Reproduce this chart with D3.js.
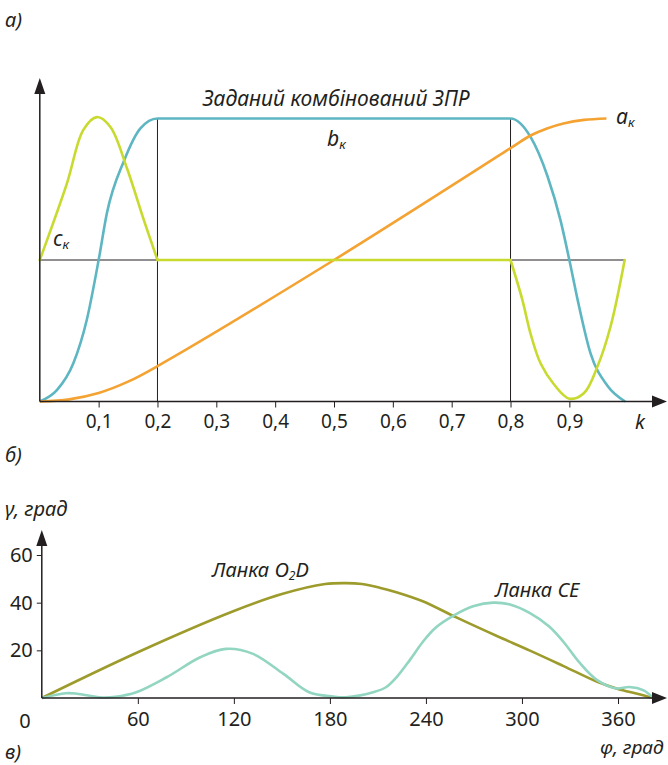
<!DOCTYPE html>
<html>
<head>
<meta charset="utf-8">
<script src="https://cdn.jsdelivr.net/npm/d3@7"></script>
<style>
  body { margin: 0; background: #fff; }
  svg { display: block; font-family: "Noto Sans", "Open Sans", sans-serif; }
  .lbl { fill: #231f20; }
  .it { font-style: italic; }
</style>
</head>
<body>
<svg id="chart" width="668" height="765"></svg>
<script>
// --- top chart: combined law (values on -1..1) ---
const kTicks = [0.1, 0.2, 0.3, 0.4, 0.5, 0.6, 0.7, 0.8, 0.9];

const bK = [0, 0.029, 0.057, 0.08, 0.1, 0.114, 0.143, 0.171, 0.2, 0.8, 0.834, 0.863, 0.885, 0.9, 0.914, 0.936, 0.965, 0.995];
const bV = [-1, -0.92, -0.73, -0.42, 0, 0.33, 0.7, 0.93, 1, 1, 0.87, 0.59, 0.28, 0, -0.28, -0.66, -0.89, -1];

const aK = [0, 0.05, 0.1, 0.15, 0.2, 0.5, 0.8, 0.834, 0.862, 0.89, 0.925, 0.963];
const aV = [-1, -0.985, -0.94, -0.86, -0.75, 0, 0.79, 0.88, 0.93, 0.965, 0.99, 1.0];

const cLeftK = [0, 0.046, 0.074, 0.097, 0.12, 0.148, 0.177, 0.2];
const cLeftV = [0, 0.54, 0.92, 1.01, 0.94, 0.65, 0.28, 0];
const cMidK = [0.2, 0.8];
const cMidV = [0, 0];
const cRightK = [0.8, 0.82, 0.834, 0.851, 0.874, 0.9, 0.925, 0.948, 0.97, 0.994];
const cRightV = [0, -0.28, -0.52, -0.73, -0.88, -0.98, -0.94, -0.75, -0.47, 0];

// --- bottom chart: gamma (deg) vs phi (deg) ---
const phiTicks = [60, 120, 180, 240, 300, 360];
const gammaTicks = [20, 40, 60];

const o2dPhi = [0, 60, 120, 150, 177, 190, 200, 211, 222, 238, 259, 284, 305, 326, 347, 360, 372, 382];
const o2dGamma = [0, 19.2, 36.5, 43.6, 47.8, 48.2, 47.8, 46.3, 44.3, 40.6, 33.8, 26.1, 19.9, 13.4, 6.8, 3.8, 1.8, 0];

const cePhi = [0, 15, 22, 36, 46, 59, 78, 99, 115, 132, 151, 167, 182, 190, 207, 215, 222, 230, 238, 246, 257, 270, 282, 292, 305, 317, 326, 336, 347, 359, 367, 376, 382];
const ceGamma = [0, 2.0, 1.8, 0.3, 0.5, 2.4, 8.7, 17.1, 20.6, 18.5, 10.1, 2.4, 0.6, 0.3, 2.4, 4.5, 9, 16, 23.5, 29.5, 34.5, 38.6, 40, 39.3, 35.6, 30, 23.5, 14.8, 7.5, 4, 4.6, 3.2, 0];

const ink = "#231f20";
const zip = (xs, ys) => xs.map((x, i) => [x, ys[i]]);

const svg = d3.select("#chart");

function arrowRight(g, x, y) {
  g.append("path").attr("d", `M${x},${y} L${x - 15},${y - 6} L${x - 15},${y + 6} Z`).attr("fill", ink);
}
function arrowUp(g, x, y) {
  g.append("path").attr("d", `M${x},${y} L${x - 5.5},${y + 16} L${x + 5.5},${y + 16} Z`).attr("fill", ink);
}
function label(x, y, txt, size, italic, anchor) {
  return svg.append("text").attr("class", "lbl" + (italic ? " it" : ""))
    .attr("x", x).attr("y", y).attr("font-size", size)
    .attr("text-anchor", anchor || "start").text(txt);
}
function subLabel(x, y, main, sub, size) {
  const t = svg.append("text").attr("class", "lbl it").attr("x", x).attr("y", y).attr("font-size", size);
  t.append("tspan").text(main);
  t.append("tspan").attr("font-size", size * 0.62).attr("dy", 3).text(sub);
  return t;
}

// ===== top chart =====
const xK = d3.scaleLinear().domain([0, 1]).range([39.8, 628.2]);
const yK = d3.scaleLinear().domain([-1, 1]).range([401.5, 118.5]);
const gTop = svg.append("g");

// thin guide lines
gTop.append("line").attr("x1", xK(0)).attr("x2", xK(0.995)).attr("y1", yK(0)).attr("y2", yK(0))
  .attr("stroke", ink).attr("stroke-width", 1);
[0.2, 0.8].forEach(k => {
  gTop.append("line").attr("x1", xK(k)).attr("x2", xK(k)).attr("y1", yK(1)).attr("y2", yK(-1))
    .attr("stroke", ink).attr("stroke-width", 1);
});

const lineK = d3.line().x(d => xK(d[0])).y(d => yK(d[1]));

gTop.append("path").datum(zip(bK, bV)).attr("d", lineK.curve(d3.curveMonotoneX))
  .attr("fill", "none").attr("stroke", "#5db6c2").attr("stroke-width", 2.6);
gTop.append("path").datum(zip(aK, aV)).attr("d", lineK.curve(d3.curveCatmullRom.alpha(0.5)))
  .attr("fill", "none").attr("stroke", "#f4a332").attr("stroke-width", 2.6);
[zip(cLeftK, cLeftV), zip(cMidK, cMidV), zip(cRightK, cRightV)].forEach(seg => {
  gTop.append("path").datum(seg).attr("d", lineK.curve(d3.curveCatmullRom.alpha(0.5)))
    .attr("fill", "none").attr("stroke", "#c8da2e").attr("stroke-width", 2.6)
    .attr("stroke-linejoin", "round").attr("stroke-linecap", "round");
});

// axes
const xAxisK = d3.axisBottom(xK).tickValues(kTicks).tickSize(6).tickPadding(7)
  .tickFormat(d => d3.format(".1f")(d).replace(".", ","));
const gxK = gTop.append("g").attr("transform", `translate(0,${yK(-1)})`).call(xAxisK);
gxK.select(".domain").remove();
gxK.selectAll(".tick line").attr("stroke", ink);
gxK.selectAll(".tick text").attr("fill", ink).attr("font-size", 19).attr("font-family", "Noto Sans");

gTop.append("line").attr("x1", xK(0)).attr("x2", 655).attr("y1", yK(-1)).attr("y2", yK(-1))
  .attr("stroke", ink).attr("stroke-width", 1.5);
arrowRight(gTop, 667, yK(-1));
gTop.append("line").attr("x1", xK(0)).attr("x2", xK(0)).attr("y1", yK(-1)).attr("y2", 90)
  .attr("stroke", ink).attr("stroke-width", 1.5);
arrowUp(gTop, xK(0), 78);

// ===== bottom chart =====
const xP = d3.scaleLinear().domain([0, 360]).range([41.8, 618]);
const yP = d3.scaleLinear().domain([0, 60]).range([698, 555]);
const gBot = svg.append("g");

const lineP = d3.line().x(d => xP(d[0])).y(d => yP(d[1]));
gBot.append("path").datum(zip(o2dPhi, o2dGamma)).attr("d", lineP.curve(d3.curveCatmullRom.alpha(0.5)))
  .attr("fill", "none").attr("stroke", "#9d9b2b").attr("stroke-width", 2.6);
gBot.append("path").datum(zip(cePhi, ceGamma)).attr("d", lineP.curve(d3.curveCatmullRom.alpha(0.5)))
  .attr("fill", "none").attr("stroke", "#92d5c1").attr("stroke-width", 2.6);

const gxP = gBot.append("g").attr("transform", `translate(0,${yP(0)})`)
  .call(d3.axisBottom(xP).tickValues(phiTicks).tickSize(6).tickPadding(8));
gxP.select(".domain").remove();
gxP.selectAll(".tick line").attr("stroke", ink);
gxP.selectAll(".tick text").attr("fill", ink).attr("font-size", 20).attr("font-family", "Noto Sans");

const gyP = gBot.append("g").attr("transform", `translate(${xP(0)},0)`)
  .call(d3.axisLeft(yP).tickValues(gammaTicks).tickSize(5).tickPadding(4));
gyP.select(".domain").remove();
gyP.selectAll(".tick line").attr("stroke", ink);
gyP.selectAll(".tick text").attr("fill", ink).attr("font-size", 20).attr("font-family", "Noto Sans");

gBot.append("line").attr("x1", xP(0)).attr("x2", 655).attr("y1", yP(0)).attr("y2", yP(0))
  .attr("stroke", ink).attr("stroke-width", 1.5);
arrowRight(gBot, 667, yP(0));
gBot.append("line").attr("x1", xP(0)).attr("x2", xP(0)).attr("y1", yP(0)).attr("y2", 542)
  .attr("stroke", ink).attr("stroke-width", 1.5);
arrowUp(gBot, xP(0), 530);

// ===== labels =====
label(5, 27, "а)", 20, true);
label(5, 462, "б)", 20, true);
label(5, 759, "в)", 20, true);
label(336, 106, "Заданий комбінований ЗПР", 21, true, "middle");
subLabel(327, 146, "b", "к", 21);
subLabel(616, 124, "a", "к", 21);
subLabel(53, 246, "c", "к", 21);
label(640, 429, "k", 20, true, "middle");
label(5, 516, "γ, град", 20, true);
label(600, 754, "φ, град", 19, true);
label(25, 728, "0", 20, false, "middle");
const o2d = svg.append("text").attr("class", "lbl it").attr("x", 212).attr("y", 577).attr("font-size", 20);
o2d.append("tspan").text("Ланка O");
o2d.append("tspan").attr("font-size", 12).attr("dy", 3).text("2");
o2d.append("tspan").attr("dy", -3).text("D");
label(495, 597, "Ланка CE", 20, true);
</script>
</body>
</html>
